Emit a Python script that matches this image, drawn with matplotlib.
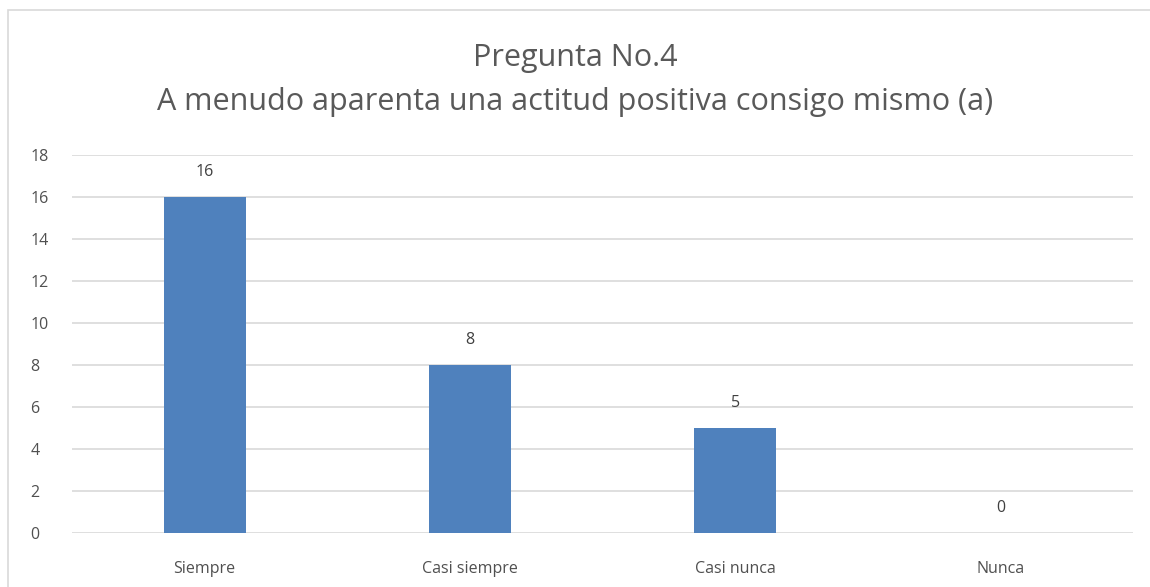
import matplotlib
matplotlib.use("Agg")
from matplotlib import pyplot as plt
from matplotlib.patches import Rectangle

categorias = ["Siempre", "Casi siempre", "Casi nunca", "Nunca"]
valores = [16, 8, 5, 0]
marcas_y = [0, 2, 4, 6, 8, 10, 12, 14, 16, 18]
titulo = "Pregunta No.4\nA menudo aparenta una actitud positiva consigo mismo (a)"

gris = "#595959"
azul = "#4f81bd"

plt.rcParams["font.family"] = ["Open Sans", "DejaVu Sans"]

fig = plt.figure(figsize=(11.5, 5.87), dpi=100)
# marco del grafico
fig.patches.append(Rectangle((8 / 1150, -0.01), 1.1, 1 - 10 / 587 + 0.01,
                             transform=fig.transFigure, fill=False,
                             edgecolor="#d9d9d9", linewidth=1.2))

ax = fig.add_axes([72 / 1150, 1 - 533 / 587, (1133 - 72) / 1150, (533 - 155) / 587])
x = list(range(len(categorias)))
barras = ax.bar(x, valores, width=0.31, color=azul, zorder=3)
for xi, v in zip(x, valores):
    ax.annotate(str(v), (xi, v), xytext=(0, 12), textcoords="offset points",
                ha="center", va="bottom", fontsize=11.5, color="#404040")

ax.set_xlim(-0.5, len(categorias) - 0.5)
ax.set_ylim(0, 18)
ax.set_yticks(marcas_y)
ax.set_xticks(x)
ax.set_xticklabels(categorias)
ax.tick_params(axis="both", length=0, labelsize=11.5, labelcolor="#505050")
ax.tick_params(axis="x", pad=20)
ax.tick_params(axis="y", pad=30)
for t in ax.get_yticklabels():
    t.set_horizontalalignment("left")
ax.grid(axis="y", color="#d9d9d9", linewidth=1.2, zorder=0)
for s in ax.spines.values():
    s.set_visible(False)

fig.text(0.5, 1 - 80 / 587, titulo, ha="center", va="center", fontsize=22,
         color=gris, linespacing=1.62)

fig.savefig("out.png", dpi=100)
